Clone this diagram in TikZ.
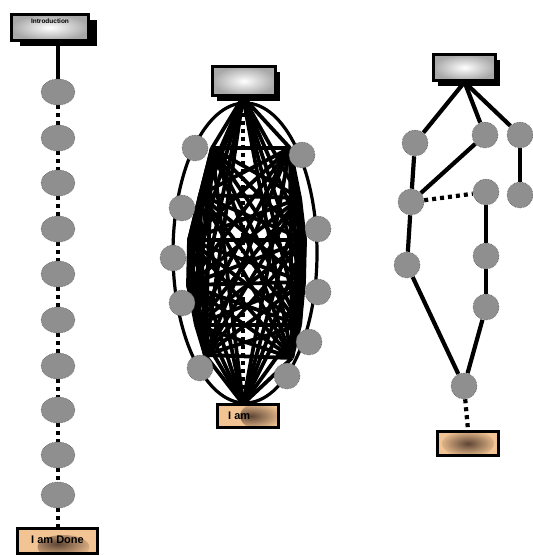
\documentclass[tikz,border=0pt]{standalone}
\usepackage{fontspec}
\setmainfont{Liberation Sans}
\usetikzlibrary{shapes.geometric,shadows}
\definecolor{nodegray}{HTML}{8F8F8F}
\definecolor{nodeedge}{HTML}{5A5A5A}
\definecolor{peach}{HTML}{F3C493}
\definecolor{darkbrown}{HTML}{5E4535}
\definecolor{boxgray}{HTML}{A8A8A8}
\pgfdeclarelayer{bg}
\pgfsetlayers{bg,main}
\begin{document}
\begin{tikzpicture}[x=1pt,y=-1pt,
  dotnode/.style={circle, fill=nodegray, draw=nodeedge, densely dotted, line width=0.6pt, minimum size=26pt, inner sep=0pt},
  ovalnode/.style={ellipse, fill=nodegray, draw=nodeedge, densely dotted, line width=0.6pt, minimum width=34pt, minimum height=26pt, inner sep=0pt},
  link/.style={line width=4.2pt},
  meshlink/.style={line width=3.8pt},
  dotlink/.style={line width=4.2pt, dash pattern=on 4pt off 4pt},
  graybox/.style={rectangle, draw=black, line width=3.2pt, inner color=white, outer color=boxgray, inner sep=0pt},
  peachbox/.style={rectangle, draw=black, line width=3.2pt, fill=peach, inner sep=0pt},
  boxshadow/.style={drop shadow={shadow xshift=#1, shadow yshift=-6pt, opacity=1, fill=black}},
  lbl/.style={font=\bfseries, text=black, inner sep=0pt},
]
\useasboundingbox (0,0) rectangle (532,556);

% ---------- left chain ----------
\node[graybox, boxshadow=8pt, minimum width=77pt, minimum height=26pt] (intro) at (50,27.5) {};
\node[lbl, font=\bfseries\fontsize{6.5}{7}\selectfont] (introtext) at (50,21) {Introduction};
\foreach \n/\y in {1/92,2/138,3/183,4/229,5/274,6/320,7/366,8/410,9/455,10/495}
  \node[ovalnode] (l\n) at (58,\y) {};
\node[peachbox, minimum width=80pt, minimum height=25pt,
  path picture={\shade[inner color=darkbrown, outer color=peach] ([xshift=6pt,yshift=-6pt]path picture bounding box.center) ellipse (26pt and 12pt);}] (done) at (57.5,541) {};
\node[lbl, font=\bfseries\fontsize{11}{12}\selectfont] (donetext) at (57.5,540) {I am Done};
\begin{pgfonlayer}{bg}
  \draw[link] (intro.south -| l1) -- (l1);
  \foreach \a/\b in {1/2,2/3,3/4,4/5,5/6,6/7,7/8,8/9,9/10}
    \draw[dotlink] (l\a) -- (l\b);
  \draw[dotlink] (l10) -- (done.north -| l10);
\end{pgfonlayer}

% ---------- middle mesh ----------
\node[graybox, boxshadow=4pt, minimum width=63pt, minimum height=29pt] (mtop) at (244,81) {};
\node[peachbox, minimum width=61pt, minimum height=23pt,
  path picture={\shade[inner color=darkbrown, outer color=peach] ([xshift=14pt]path picture bounding box.center) ellipse (22pt and 14pt);}] (mbot) at (248,416) {};
\node[lbl, font=\bfseries\fontsize{11}{12}\selectfont, anchor=west] (mbottext) at (228,416) {I am};
\node[ellipse, draw=black, line width=3.2pt, minimum width=144pt, minimum height=300pt, inner sep=0pt] (ring) at (245,253) {};
\coordinate (T) at (243,97);
\coordinate (Bt) at (243,404);
\coordinate (m1) at (212,148);
\coordinate (m2) at (290,148);
\coordinate (m3) at (200,195);
\coordinate (m4) at (300,198);
\coordinate (m5) at (189,240);
\coordinate (m6) at (305,240);
\coordinate (m7) at (188,285);
\coordinate (m8) at (304,282);
\coordinate (m9) at (196,325);
\coordinate (m10) at (300,325);
\coordinate (m11) at (205,355);
\coordinate (m12) at (292,358);
\begin{pgfonlayer}{bg}
  \draw[dotlink] (T) -- (Bt);
  \foreach \i in {1,...,12}{
    \draw[meshlink] (T) -- (m\i);
    \draw[meshlink] (Bt) -- (m\i);
  }
  \foreach \i in {1,...,11}{
    \pgfmathtruncatemacro\jfirst{\i+1}
    \foreach \j in {\jfirst,...,12}
      \draw[meshlink] (m\i) -- (m\j);
  }
\end{pgfonlayer}
\foreach \n/\x/\y in {1/195/148,2/302/155,3/182/208,4/318/229,5/173/258,6/182/303,7/318/292,8/309/342,9/200/368,10/287/376}
  \node[dotnode] (c\n) at (\x,\y) {};

% ---------- right tree ----------
\node[graybox, boxshadow=4pt, minimum width=62pt, minimum height=26pt] (rtop) at (464.5,67.5) {};
\node[peachbox, minimum width=61pt, minimum height=24pt,
  path picture={\shade[inner color=darkbrown, outer color=peach] (path picture bounding box.center) ellipse (26pt and 14pt);}] (rbot) at (468,443.5) {};
\foreach \n/\x/\y in {1/415/143,2/485/135,3/520/135,4/411/202,5/486/192,6/520/195,7/407/265,8/486/256,9/486/307,10/464/386}
  \node[dotnode] (r\n) at (\x,\y) {};
\begin{pgfonlayer}{bg}
  \draw[link] (rtop.south) -- (r1);
  \draw[link] (rtop.south) -- (r2);
  \draw[link] (rtop.south) -- (r3);
  \draw[link] (r1) -- (r4);
  \draw[link] (r2) -- (r4);
  \draw[dotlink] (r4) -- (r5);
  \draw[link] (r3) -- (r6);
  \draw[link] (r4) -- (r7);
  \draw[link] (r5) -- (r8);
  \draw[link] (r8) -- (r9);
  \draw[link] (r7) -- (r10);
  \draw[link] (r9) -- (r10);
  \draw[dotlink] (r10) -- (rbot.north);
\end{pgfonlayer}
\end{tikzpicture}
\end{document}
